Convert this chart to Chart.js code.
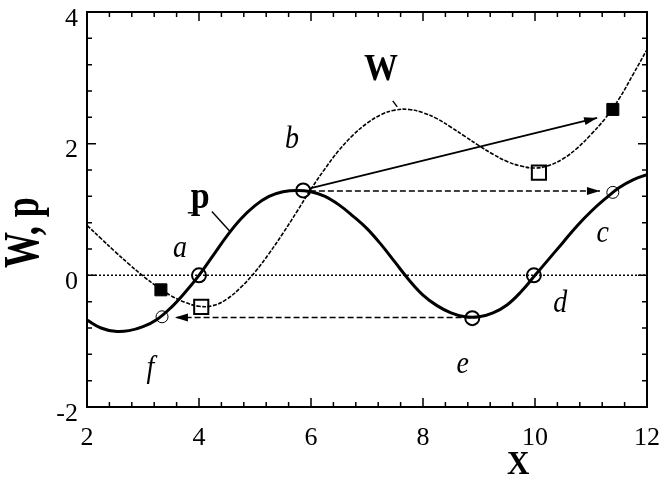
<!DOCTYPE html>
<html>
<head>
<meta charset="utf-8">
<script src="https://cdn.jsdelivr.net/npm/chart.js@4.4.1/dist/chart.umd.min.js"></script>
<style>
  html, body { margin: 0; padding: 0; background: #fff; }
  #chart { display: block; }
</style>
</head>
<body>
<canvas id="chart" width="661" height="489"></canvas>
<script>
// curve samples
const xs = [2, 2.25, 2.5, 2.75, 3, 3.25, 3.5, 3.75, 4, 4.25, 4.5, 4.75, 5, 5.25, 5.5, 5.75, 6, 6.25, 6.5, 6.75,
  7, 7.25, 7.5, 7.75, 8, 8.25, 8.5, 8.75, 9, 9.25, 9.5, 9.75, 10, 10.25, 10.5, 10.75, 11, 11.25, 11.5, 11.75, 12];
const pValues = [-0.68, -0.80, -0.85, -0.84, -0.78, -0.67, -0.49, -0.26, 0, 0.30, 0.60, 0.86, 1.06, 1.20, 1.27, 1.29, 1.27, 1.20, 1.07, 0.90,
  0.71, 0.47, 0.20, -0.07, -0.30, -0.46, -0.57, -0.63, -0.63, -0.57, -0.45, -0.25, 0, 0.25, 0.50, 0.75, 0.97, 1.16, 1.33, 1.45, 1.53];
const wValues = [0.76, 0.56, 0.36, 0.17, -0.01, -0.17, -0.31, -0.41, -0.47, -0.46, -0.36, -0.18, 0.05, 0.33, 0.64, 0.97, 1.31, 1.62, 1.90, 2.13,
  2.31, 2.44, 2.51, 2.52, 2.47, 2.38, 2.25, 2.11, 1.97, 1.84, 1.73, 1.66, 1.63, 1.67, 1.77, 1.93, 2.14, 2.38, 2.68, 3.05, 3.43];

// markers
const boldCircleX = [4.0, 5.86, 9.98, 8.88];
const boldCircleY = [0, 1.29, 0, -0.65];
const thinCircleX = [11.39, 3.34];
const thinCircleY = [1.26, -0.63];
const openSquareX = [4.04, 10.07];
const openSquareY = [-0.48, 1.56];
const filledSquareX = [3.32, 11.39];
const filledSquareY = [-0.22, 2.52];

// arrows (start, tip)
const solidArrowX = [5.98, 11.11];
const solidArrowY = [1.32, 2.39];
const dashArrowTopX = [5.98, 11.16];
const dashArrowTopY = [1.28, 1.28];
const dashArrowLowX = [8.85, 3.57];
const dashArrowLowY = [-0.64, -0.64];

// leader lines for the p and W labels
const pLeaderX = [4.23, 4.55];
const pLeaderY = [0.97, 0.67];
const pTickX = [3.80, 3.89];
const pTickY = [0.95, 0.95];
const wLeaderX = [7.46, 7.54];
const wLeaderY = [2.65, 2.56];

const zeroX = [2, 12];
const zeroY = [0, 0];

// point letters
const letterText = ['a', 'b', 'c', 'd', 'e', 'f'];
const letterX = [3.66, 5.66, 11.21, 10.45, 8.71, 3.13];
const letterY = [0.41, 2.07, 0.64, -0.43, -1.35, -1.41];
const curveNames = ['p', 'W'];
const curveNameX = [4.02, 7.25];
const curveNameY = [1.17, 3.11];

const pts = (xa, ya) => xa.map((x, i) => ({ x, y: ya[i] }));
const serif = '"Liberation Serif", "Times New Roman", serif';

const lineSet = (data, width, dash) => ({
  data, borderColor: '#000', borderWidth: width, borderDash: dash || [],
  pointRadius: 0, tension: 0, fill: false,
});
const markSet = (data, style, radius, width, fillColor) => ({
  data, showLine: false, pointStyle: style, pointRadius: radius,
  pointBorderWidth: width, pointBorderColor: '#000', pointBackgroundColor: fillColor,
});

function drawText(ctx, text, px, py, font, sy, rot) {
  ctx.save();
  ctx.translate(px, py);
  if (rot) ctx.rotate(rot);
  ctx.scale(1, sy);
  ctx.font = font;
  ctx.fillStyle = '#000';
  ctx.textAlign = 'center';
  ctx.textBaseline = 'middle';
  ctx.fillText(text, 0, 0);
  ctx.restore();
}

const decor = {
  id: 'decor',
  afterDatasetsDraw(chart) {
    const { ctx, chartArea: a, scales: { x, y } } = chart;
    ctx.save();
    ctx.strokeStyle = '#000';
    ctx.lineWidth = 2;
    ctx.strokeRect(a.left, a.top, a.right - a.left, a.bottom - a.top);

    // inward ticks on all four sides
    ctx.lineWidth = 1.5;
    ctx.beginPath();
    for (let v = 2; v <= 12.001; v += 0.4) {
      const px = x.getPixelForValue(v);
      const len = Math.abs(v / 2 - Math.round(v / 2)) < 0.01 ? 9 : 5;
      ctx.moveTo(px, a.bottom); ctx.lineTo(px, a.bottom - len);
      ctx.moveTo(px, a.top); ctx.lineTo(px, a.top + len);
    }
    for (let v = -2; v <= 4.001; v += 0.4) {
      const py = y.getPixelForValue(v);
      const len = Math.abs(v / 2 - Math.round(v / 2)) < 0.01 ? 9 : 5;
      ctx.moveTo(a.left, py); ctx.lineTo(a.left + len, py);
      ctx.moveTo(a.right, py); ctx.lineTo(a.right - len, py);
    }
    ctx.stroke();

    // arrow heads at the tip of each arrow dataset
    chart.data.datasets.forEach((ds, i) => {
      if (!ds.arrow) return;
      const d = chart.getDatasetMeta(i).data;
      const p0 = d[0], p1 = d[1];
      const ang = Math.atan2(p1.y - p0.y, p1.x - p0.x);
      ctx.save();
      ctx.translate(p1.x, p1.y);
      ctx.rotate(ang);
      ctx.fillStyle = '#000';
      ctx.beginPath();
      ctx.moveTo(0, 0);
      ctx.lineTo(-13, -4);
      ctx.lineTo(-13, 4);
      ctx.closePath();
      ctx.fill();
      ctx.restore();
    });

    letterText.forEach((t, i) => {
      drawText(ctx, t, x.getPixelForValue(letterX[i]), y.getPixelForValue(letterY[i]),
        'italic 28px ' + serif, 1.15);
    });
    curveNames.forEach((t, i) => {
      drawText(ctx, t, x.getPixelForValue(curveNameX[i]), y.getPixelForValue(curveNameY[i]),
        'bold 34px ' + serif, 1.1);
    });

    // axis titles
    drawText(ctx, 'X', x.getPixelForValue(9.7), 465, 'bold 31px ' + serif, 1.12);
    drawText(ctx, 'W, p', 25, y.getPixelForValue(0.65), 'bold 36px ' + serif, 1.4, -Math.PI / 2);
    ctx.restore();
  }
};

new Chart(document.getElementById('chart'), {
  type: 'line',
  data: {
    datasets: [
      lineSet(pts(zeroX, zeroY), 1.5, [2, 2]),
      Object.assign(lineSet(pts(xs, wValues), 1.6, [4, 1.5]), { tension: 0.4 }),
      Object.assign(lineSet(pts(xs, pValues), 3), { tension: 0.4 }),
      Object.assign(lineSet(pts(solidArrowX, solidArrowY), 1.8), { arrow: true }),
      Object.assign(lineSet(pts(dashArrowTopX, dashArrowTopY), 1.6, [6, 3]), { arrow: true }),
      Object.assign(lineSet(pts(dashArrowLowX, dashArrowLowY), 1.6, [6, 3]), { arrow: true }),
      lineSet(pts(pLeaderX, pLeaderY), 1.4),
      lineSet(pts(pTickX, pTickY), 1.4),
      lineSet(pts(wLeaderX, wLeaderY), 1.4),
      markSet(pts(boldCircleX, boldCircleY), 'circle', 7, 2, 'rgba(0,0,0,0)'),
      markSet(pts(thinCircleX, thinCircleY), 'circle', 6, 1, 'rgba(0,0,0,0)'),
      markSet(pts(openSquareX, openSquareY), 'rect', 10, 2, '#fff'),
      markSet(pts(filledSquareX, filledSquareY), 'rect', 8.5, 1, '#000'),
    ],
  },
  options: {
    responsive: false,
    animation: false,
    events: [],
    layout: { padding: { left: 0, top: 9, right: 14, bottom: 0 } },
    plugins: { legend: { display: false }, tooltip: { enabled: false } },
    scales: {
      x: {
        type: 'linear', min: 2, max: 12,
        border: { display: false },
        grid: { display: false, drawTicks: false },
        ticks: { stepSize: 2, padding: 16, color: '#000', font: { family: serif, size: 26 } },
        afterFit: (s) => { s.height = 82; s.paddingLeft = 0; s.paddingRight = 0; },
      },
      y: {
        type: 'linear', min: -2, max: 4,
        border: { display: false },
        grid: { display: false, drawTicks: false },
        ticks: { stepSize: 2, padding: 9, labelOffset: 7, color: '#000', font: { family: serif, size: 26 } },
        afterFit: (s) => { s.width = 87; s.paddingTop = 0; s.paddingBottom = 0; },
      },
    },
  },
  plugins: [decor],
});
</script>
</body>
</html>
